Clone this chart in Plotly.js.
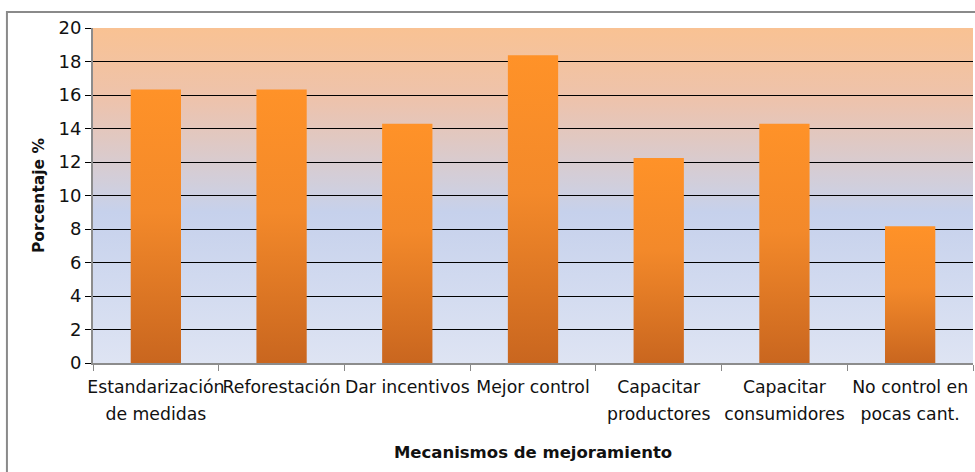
<!DOCTYPE html>
<html>
<head>
<meta charset="utf-8">
<script src="https://cdn.plot.ly/plotly-3.0.1.min.js"></script>
<style>
html,body{margin:0;padding:0;background:#fff;}
#chart{width:975px;height:472px;}
</style>
</head>
<body>
<div id="chart"></div>
<script>
const categories = [
  "Estandarización<br>de medidas",
  "Reforestación",
  "Dar incentivos",
  "Mejor control",
  "Capacitar<br>productores",
  "Capacitar<br>consumidores",
  "No control en<br>pocas cant."
];
const porcentajes = [16.33, 16.33, 14.29, 18.37, 12.24, 14.29, 8.16];
const yTicks = [0, 2, 4, 6, 8, 10, 12, 14, 16, 18, 20];

const FONT = "DejaVu Sans, Verdana, sans-serif";

const trace = {
  type: "bar",
  x: categories,
  y: porcentajes,
  marker: {color: "#F0862A", line: {width: 0}},
  hoverinfo: "x+y"
};

const layout = {
  width: 975,
  height: 472,
  margin: {l: 93, r: 2, t: 28, b: 109, pad: 0},
  paper_bgcolor: "#ffffff",
  plot_bgcolor: "#C9D4EC",
  showlegend: false,
  bargap: 0.6,
  font: {family: FONT, size: 17, color: "#111"},
  xaxis: {
    type: "category",
    tickson: "boundaries",
    ticks: "outside",
    ticklen: 6,
    tickcolor: "#888",
    tickwidth: 1,
    showline: true,
    linecolor: "#8c8c8c",
    linewidth: 2,
    showgrid: false,
    ticklabelstandoff: 7,
    tickfont: {family: FONT, size: 17.3, color: "#111"},
    tickangle: 0,
    title: {text: "Mecanismos de mejoramiento", standoff: 28,
            font: {family: FONT, size: 16.5, color: "#111", weight: "bold"}}
  },
  yaxis: {
    range: [0, 20],
    tickvals: yTicks,
    ticktext: yTicks.map(String),
    ticks: "outside",
    ticklen: 6,
    tickcolor: "#000",
    showline: true,
    linecolor: "#8c8c8c",
    linewidth: 2,
    showgrid: true,
    gridcolor: "#000",
    gridwidth: 1,
    zeroline: false,
    tickfont: {family: FONT, size: 18, color: "#111"},
    title: {text: "Porcentaje %", standoff: 10,
            font: {family: FONT, size: 15.5, color: "#111", weight: "bold"}}
  },
  shapes: [{
    type: "rect", xref: "paper", yref: "paper",
    x0: -0.0978, x1: 1.05, y0: -0.5, y1: 1.048,
    line: {color: "#8a8a8a", width: 2}, fillcolor: "rgba(0,0,0,0)", layer: "above"
  }]
};

Plotly.newPlot("chart", [trace], layout, {displayModeBar: false, staticPlot: true}).then(function(gd){
  const svg = gd.querySelector("svg.main-svg");
  const ns = "http://www.w3.org/2000/svg";
  let defs = svg.querySelector("defs");
  if (!defs) { defs = document.createElementNS(ns, "defs"); svg.insertBefore(defs, svg.firstChild); }
  function grad(id, stops){
    const g = document.createElementNS(ns, "linearGradient");
    g.setAttribute("id", id);
    g.setAttribute("x1", "0"); g.setAttribute("y1", "0");
    g.setAttribute("x2", "0"); g.setAttribute("y2", "1");
    stops.forEach(function(s){
      const st = document.createElementNS(ns, "stop");
      st.setAttribute("offset", s[0]);
      st.setAttribute("stop-color", s[1]);
      g.appendChild(st);
    });
    defs.appendChild(g);
  }
  grad("bgGrad", [["0", "#F9C293"], ["0.22", "#EDC3AD"], ["0.5", "#CDD0E2"], ["0.55", "#C6D1EC"], ["1", "#DEE4F3"]]);
  grad("barGrad", [["0", "#FF9228"], ["0.45", "#F3892A"], ["1", "#C9661F"]]);
  svg.querySelectorAll(".bglayer rect.bg").forEach(function(r){ r.style.fill = "url(#bgGrad)"; });
  svg.querySelectorAll(".barlayer .point path").forEach(function(p){ p.style.fill = "url(#barGrad)"; });
  // wider line spacing for the two-line category labels
  svg.querySelectorAll(".xtick text tspan.line").forEach(function(t){
    const dy = t.getAttribute("dy");
    if (dy && parseFloat(dy) > 0) { t.setAttribute("dy", (parseFloat(dy) * 1.55 / 1.3) + "em"); }
  });
});
</script>
</body>
</html>
